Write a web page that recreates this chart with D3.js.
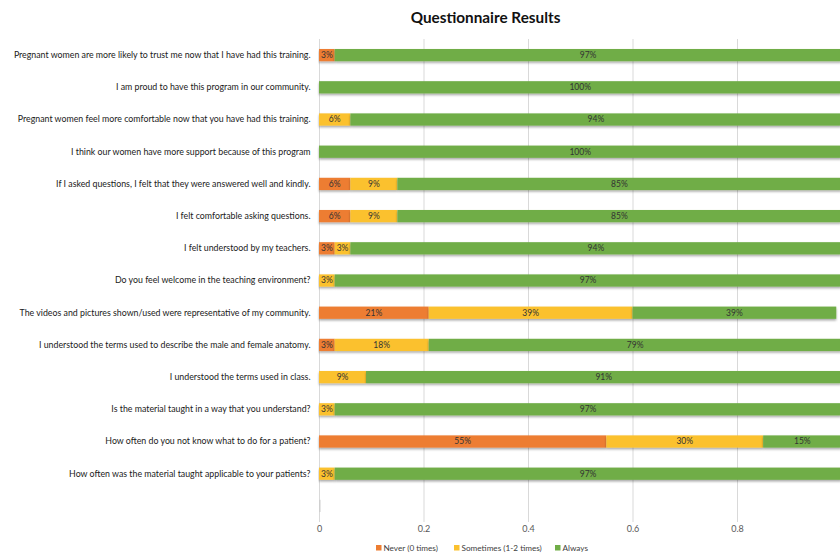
<!DOCTYPE html>
<html>
<head>
<meta charset="utf-8">
<script src="https://cdn.jsdelivr.net/npm/d3@7"></script>
<style>
  html, body { margin: 0; padding: 0; background: #fff; }
  svg { display: block; }
</style>
</head>
<body>
<svg id="chart" width="840" height="558"></svg>
<script>
const questions = [
  "Pregnant women are more likely to trust me now that I have had this training.",
  "I am proud to have this program in our community.",
  "Pregnant women feel more comfortable now that you have had this training.",
  "I think our women have more support because of this program",
  "If I asked questions, I felt that they were answered well and kindly.",
  "I felt comfortable asking questions.",
  "I felt understood by my teachers.",
  "Do you feel welcome in the teaching environment?",
  "The videos and pictures shown/used were representative of my community.",
  "I understood the terms used to describe the male and female anatomy.",
  "I understood the terms used in class.",
  "Is the material taught in a way that you understand?",
  "How often do you not know what to do for a patient?",
  "How often was the material taught applicable to your patients?",
  ""
];
const never     = [0.03, 0, 0,    0, 0.06, 0.06, 0.03, 0,    0.21, 0.03, 0,    0,    0.55, 0,    0];
const sometimes = [0,    0, 0.06, 0, 0.09, 0.09, 0.03, 0.03, 0.39, 0.18, 0.09, 0.03, 0.30, 0.03, 0];
const always    = [0.97, 1, 0.94, 1, 0.85, 0.85, 0.94, 0.97, 0.39, 0.79, 0.91, 0.97, 0.15, 0.97, 0];
const seriesNames = ["Never (0 times)", "Sometimes (1-2 times)", "Always"];
const xTicks = [0, 0.2, 0.4, 0.6, 0.8, 1];
const title = "Questionnaire Results";

const colors = ["#ED7D31", "#FBC12E", "#70AD47"];
const font = "Lato, 'Open Sans', sans-serif";

const svg = d3.select("#chart");
const plotL = 319, plotR = 841.5, plotT = 39, plotB = 522;

const x = d3.scaleLinear().domain([0, 1]).range([plotL, plotR]);
const y = d3.scaleBand().domain(d3.range(questions.length)).range([plotT, plotB]).paddingInner(0.62).paddingOuter(0.31);

const defs = svg.append("defs");
const f = defs.append("filter").attr("id", "shadow").attr("x", "-5%").attr("y", "-30%").attr("width", "110%").attr("height", "180%");
f.append("feDropShadow").attr("dx", 0).attr("dy", 1.6).attr("stdDeviation", 0.9)
  .attr("flood-color", "#000").attr("flood-opacity", 0.35);

// title
svg.append("text").attr("x", 485.5).attr("y", 23).attr("text-anchor", "middle")
  .attr("font-family", font).attr("font-weight", "bold").attr("font-size", 15.3)
  .attr("fill", "#111").text(title);

// gridlines
svg.append("g").selectAll("line").data(xTicks.filter(t => t < 1)).join("line")
  .attr("x1", d => x(d) + 0.5).attr("x2", d => x(d) + 0.5)
  .attr("y1", plotT).attr("y2", plotB)
  .attr("stroke", "#D9D9D9").attr("stroke-width", 1);

// x axis tick labels
const xAxis = d3.axisBottom(x).tickValues(xTicks).tickSize(0).tickPadding(0)
  .tickFormat(d => d === 0 ? "0" : d3.format("")(d));
const gx = svg.append("g").attr("transform", `translate(0, ${plotB + 4})`).call(xAxis);
gx.select(".domain").remove();
gx.selectAll("text").attr("font-family", font).attr("font-size", 9).attr("fill", "#595959").attr("dy", "0.71em");

// category labels
const yAxis = d3.axisLeft(y).tickFormat(i => questions[i]).tickSize(0).tickPadding(8.5);
const gy = svg.append("g").attr("transform", `translate(${plotL}, 0)`).call(yAxis);
gy.select(".domain").remove();
gy.selectAll("text").attr("font-family", font).attr("font-size", 8.8).attr("fill", "#1a1a1a");

// stacked data
const rows = questions.map((q, i) => ({ i, v: [never[i], sometimes[i], always[i]] }));
const segs = [];
rows.forEach(r => {
  let acc = 0;
  r.v.forEach((v, k) => {
    if (v > 0) segs.push({ i: r.i, k, x0: acc, x1: acc + v, v });
    acc += v;
  });
});

const gBars = svg.append("g");
gBars.selectAll("rect").data(segs).join("rect")
  .attr("x", d => x(d.x0)).attr("width", d => x(d.x1) - x(d.x0))
  .attr("y", d => y(d.i)).attr("height", y.bandwidth())
  .attr("fill", d => colors[d.k]).attr("filter", "url(#shadow)");

// zero-value sliver for empty category
svg.append("rect").attr("x", x(0)).attr("width", 1.5)
  .attr("y", y(questions.length - 1)).attr("height", y.bandwidth())
  .attr("fill", "#cfcfcf");

svg.append("g").selectAll("text").data(segs).join("text")
  .attr("x", d => (x(d.x0) + x(d.x1)) / 2)
  .attr("y", d => y(d.i) + y.bandwidth() / 2)
  .attr("dy", "0.35em").attr("text-anchor", "middle")
  .attr("font-family", font).attr("font-size", 8.5).attr("fill", "#333")
  .text(d => Math.round(d.v * 100) + "%");

// legend
const legendX = [376, 454, 555];
const lg = svg.append("g").selectAll("g").data(seriesNames).join("g")
  .attr("transform", (d, k) => `translate(${legendX[k]}, 548)`);
lg.append("rect").attr("x", 0).attr("y", -3).attr("width", 5.5).attr("height", 5.5)
  .attr("fill", (d, k) => colors[k]);
lg.append("text").attr("x", 7.5).attr("y", 0).attr("dy", "0.35em")
  .attr("font-family", font).attr("font-size", 8.2).attr("fill", "#404040").text(d => d);
</script>
</body>
</html>
